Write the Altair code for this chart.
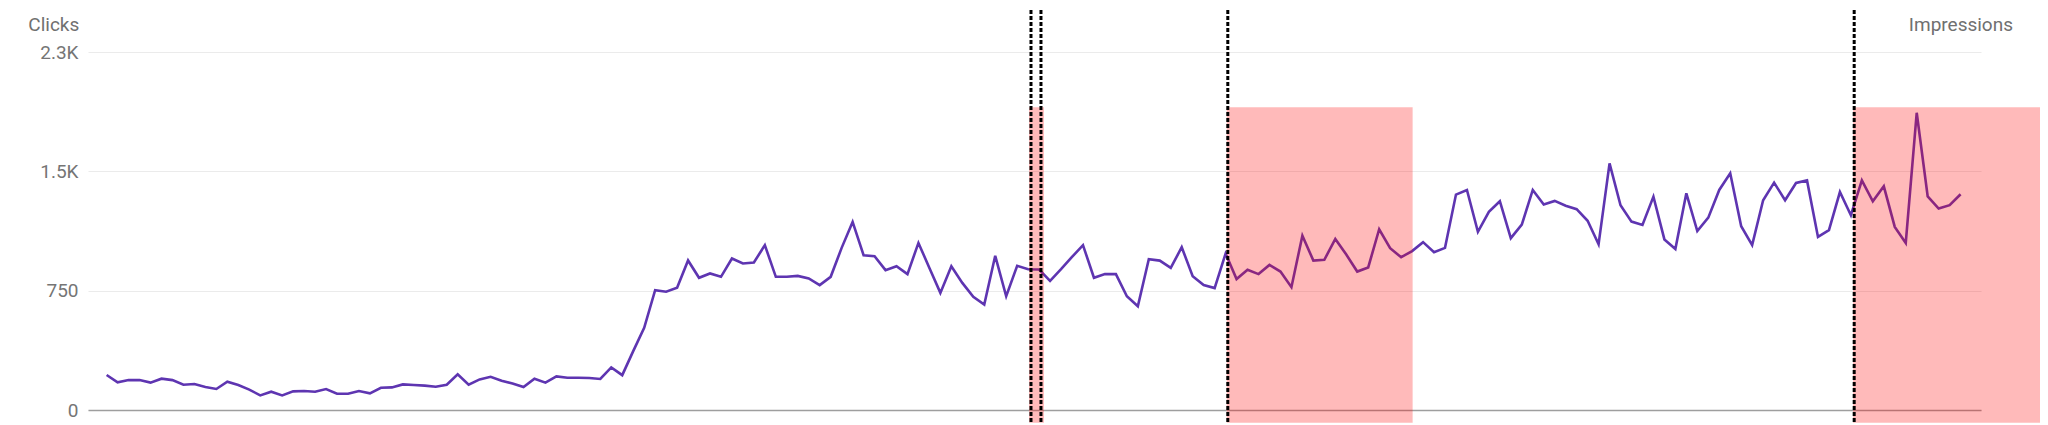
import altair as alt
import pandas as pd

# Daily clicks
clicks = [
    220, 174, 188, 188, 172, 197, 188, 159, 163, 144, 132, 178, 157, 128, 92, 115, 92, 117, 119, 115, 132, 102, 102, 119, 105,
    140, 142, 161, 157, 153, 146, 159, 224, 159, 192, 209, 184, 167, 144, 197, 172, 211, 203, 203, 201, 195, 268, 219, 370,
    517, 753, 743, 768, 940, 831, 858, 837, 952, 921, 927, 1036, 837, 837, 843, 827, 785, 837, 1019, 1182, 973, 967, 879, 904,
    854, 1050, 893, 736, 904, 799, 711, 663, 969, 715, 906, 885, 883, 812, 885, 962, 1036, 831, 854, 854, 715, 652, 948, 939,
    893, 1023, 841, 785, 766, 983, 823, 881, 854, 912, 870, 772, 1096, 939, 944, 1075, 977, 870, 896, 1136, 1017, 960, 999, 1055, 992, 1019,
    1354, 1383, 1120, 1245, 1312, 1080, 1165, 1383, 1291, 1314, 1284, 1262, 1189, 1042, 1550, 1287, 1184, 1163, 1341, 1072, 1012, 1362, 1125, 1209, 1383, 1488, 1155,
    1036, 1318, 1429, 1318, 1427, 1443, 1088, 1130, 1370, 1224, 1443, 1312, 1406, 1151, 1050, 1868, 1343, 1266, 1287, 1356,
]
day = list(range(len(clicks)))

# Annotation bands (in day units) and dashed markers
band_start = [84.08, 102.1, 159.2]
band_end = [85.44, 119.05, 178.0]
band_top = [1902, 1902, 1902]
band_bottom = [-80, -80, -80]
marker_day = [84.26, 85.17, 102.2, 159.3]
marker_top = [2514, 2514, 2514, 2514]
marker_bottom = [-80, -80, -80, -80]

# Axis ticks
tick_values = [0, 750, 1500, 2250]
tick_labels = ["0", "750", "1.5K", "2.3K"]

label_expr = " : ".join(
    [f"datum.value == {v} ? '{l}'" for v, l in zip(tick_values, tick_labels)]
) + " : ''"

df = pd.DataFrame({"day": day, "clicks": clicks})
bands = pd.DataFrame({"s": band_start, "e": band_end, "t": band_top, "b": band_bottom})
markers = pd.DataFrame({"d": marker_day, "t": marker_top, "b": marker_bottom})

xscale = alt.Scale(domain=[-1.70, 170.86], nice=False, zero=False)
yscale = alt.Scale(domain=[0, 2250], nice=False)

line = alt.Chart(df).mark_line(color="#5e35b1", strokeWidth=2.6).encode(
    x=alt.X("day:Q", scale=xscale,
            axis=alt.Axis(title=None, labels=False, ticks=False, grid=False,
                          domain=True, domainColor="#9e9e9e", domainWidth=1.3)),
    y=alt.Y("clicks:Q", scale=yscale,
            axis=alt.Axis(title=None, values=tick_values, labelExpr=label_expr,
                          ticks=False, tickSize=0, domain=False, grid=True,
                          gridColor="#ebebeb", gridWidth=1.2,
                          labelFont="Roboto", labelFontSize=19, labelColor="#757575",
                          labelPadding=10)),
)

rects = alt.Chart(bands).mark_rect(color="#ff0000", opacity=0.27).encode(
    x=alt.X("s:Q", scale=xscale), x2="e:Q",
    y=alt.Y("t:Q", scale=yscale), y2="b:Q",
)

rules = alt.Chart(markers).mark_rule(color="#000000", strokeWidth=3, strokeDash=[4, 2]).encode(
    x=alt.X("d:Q", scale=xscale),
    y=alt.Y("t:Q", scale=yscale), y2="b:Q",
)

left_title = alt.Chart(pd.DataFrame({"t": ["Clicks"]})).mark_text(
    font="Roboto", fontSize=19, color="#707070", align="left", baseline="middle"
).encode(x=alt.value(-59.7), y=alt.value(-27), text="t:N")

right_title = alt.Chart(pd.DataFrame({"t": ["Impressions"]})).mark_text(
    font="Roboto", fontSize=19, color="#707070", align="right", baseline="middle"
).encode(x=alt.value(1925), y=alt.value(-27), text="t:N")

chart = alt.layer(line, rects, rules, left_title, right_title).properties(
    width=1893, height=358,
    padding={"left": 80, "top": 44, "right": 59, "bottom": 15},
    autosize=alt.AutoSizeParams(type="none"),
    background="white",
).configure_view(stroke=None)

chart.save("out.html", embed_options={"renderer": "svg", "actions": False})
